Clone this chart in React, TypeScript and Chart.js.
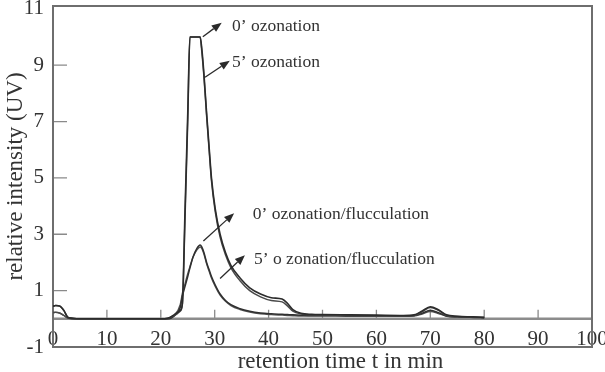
import React, { useEffect, useRef } from "react";
import { Chart, registerables } from "chart.js";

Chart.register(...registerables);

const FONT = "'Liberation Serif', 'Times New Roman', serif";
const TEXT = "#333333";

// retention time (min)
const timeMin = [
  0, 0.5, 1.3, 2, 2.8, 5, 10, 15, 20, 21.3, 22.5, 23.6, 24.0, 24.5, 25.0, 25.4,
  26, 26.7, 27.3, 27.6, 28.0, 28.5, 29.0, 29.4, 30.1, 31.0, 32.0, 33.0, 34.7,
  36.5, 38.5, 40.5, 42.5, 43.5, 44.5, 46, 48, 50, 55, 60, 65, 67, 68.5, 70,
  71.5, 73, 75, 78, 80,
];

const ozonation0 = [
  0.45, 0.47, 0.45, 0.3, 0.05, 0, 0, 0, 0, 0.02, 0.15, 0.3, 0.55, 3.9, 7.3, 10,
  10, 10, 10, 9.6, 8.7, 7.3, 6.0, 5.0, 3.9, 3.0, 2.35, 1.9, 1.45, 1.1, 0.88,
  0.75, 0.7, 0.55, 0.33, 0.2, 0.16, 0.15, 0.14, 0.13, 0.12, 0.14, 0.28, 0.43,
  0.32, 0.14, 0.09, 0.07, 0.05,
];

const ozonation5 = [
  0.22, 0.23, 0.2, 0.12, 0.03, 0, 0, 0, 0, 0.02, 0.12, 0.27, 0.5, 3.6, 7.0, 10,
  10, 10, 10, 9.5, 8.6, 7.2, 5.9, 4.9, 3.8, 2.9, 2.27, 1.82, 1.35, 1.0, 0.78,
  0.65, 0.6, 0.46, 0.27, 0.17, 0.14, 0.13, 0.12, 0.11, 0.1, 0.12, 0.25, 0.4,
  0.3, 0.12, 0.08, 0.06, 0.05,
];

const flocculation0 = [
  0.45, 0.47, 0.45, 0.3, 0.05, 0, 0, 0, 0, 0, 0.1, 0.4, 0.8, 1.15, 1.5, 1.8,
  2.2, 2.5, 2.62, 2.55, 2.35, 2.0, 1.72, 1.5, 1.2, 0.88, 0.65, 0.5, 0.36, 0.27,
  0.21, 0.18, 0.16, 0.15, 0.14, 0.13, 0.12, 0.12, 0.11, 0.11, 0.1, 0.12, 0.2,
  0.3, 0.22, 0.1, 0.07, 0.05, 0.04,
];

const flocculation5 = [
  0.22, 0.23, 0.2, 0.12, 0.03, 0, 0, 0, 0, 0, 0.12, 0.5, 0.9, 1.25, 1.6, 1.85,
  2.2, 2.45, 2.55, 2.5, 2.3, 1.95, 1.67, 1.45, 1.15, 0.84, 0.62, 0.47, 0.33,
  0.24, 0.18, 0.15, 0.13, 0.12, 0.11, 0.1, 0.1, 0.1, 0.09, 0.09, 0.09, 0.1,
  0.17, 0.26, 0.19, 0.09, 0.06, 0.05, 0.04,
];

const xTickValues = [0, 10, 20, 30, 40, 50, 60, 70, 80, 90, 100];
const yTickValues = [-1, 1, 3, 5, 7, 9, 11];

const seriesNames = [
  "0’ ozonation",
  "5’ ozonation",
  "0’ ozonation/flucculation",
  "5’ o zonation/flucculation",
];

// annotation anchors in data coordinates
const labelX = [33.2, 33.2, 37.05, 37.3];
const labelY = [10.23, 8.95, 3.54, 1.93];
const arrowFromX = [27.8, 28.2, 27.9, 31.0];
const arrowFromY = [10.01, 8.57, 2.76, 1.43];
const arrowToX = [31.3, 32.8, 33.6, 35.6];
const arrowToY = [10.51, 9.16, 3.75, 2.26];

const xTitle = "retention time t in min";
const yTitle = "relative intensity (UV)";

const decorPlugin = {
  id: "decor",
  beforeDatasetsDraw(chart: any) {
    const { ctx, chartArea: a, scales } = chart;
    const x = scales.x;
    const y = scales.y;
    ctx.save();
    const y0 = y.getPixelForValue(0);
    ctx.strokeStyle = "#8a8a8a";
    ctx.lineWidth = 1.3;
    ctx.beginPath();
    for (const v of xTickValues) {
      if (v <= 0 || v >= 100) continue;
      const px = x.getPixelForValue(v);
      ctx.moveTo(px, y0);
      ctx.lineTo(px, y0 - 9);
    }
    for (const v of yTickValues) {
      if (v <= -1 || v >= 11) continue;
      const py = y.getPixelForValue(v);
      ctx.moveTo(a.left, py);
      ctx.lineTo(a.left + 14, py);
    }
    ctx.stroke();
    ctx.strokeStyle = "#8c8c8c";
    ctx.lineWidth = 2.5;
    ctx.beginPath();
    ctx.moveTo(a.left, y0);
    ctx.lineTo(a.right, y0);
    ctx.stroke();
    ctx.strokeStyle = "#6e6e6e";
    ctx.lineWidth = 2;
    ctx.strokeRect(a.left, a.top, a.right - a.left, a.bottom - a.top);
    ctx.restore();
  },
  afterDatasetsDraw(chart: any) {
    const { ctx, chartArea: a, scales } = chart;
    const x = scales.x;
    const y = scales.y;
    ctx.save();
    ctx.strokeStyle = "#2a2a2a";
    ctx.fillStyle = "#2a2a2a";
    ctx.lineWidth = 1.3;
    for (let i = 0; i < seriesNames.length; i++) {
      const x1 = x.getPixelForValue(arrowFromX[i]);
      const y1 = y.getPixelForValue(arrowFromY[i]);
      const x2 = x.getPixelForValue(arrowToX[i]);
      const y2 = y.getPixelForValue(arrowToY[i]);
      const ang = Math.atan2(y2 - y1, x2 - x1);
      const len = 10;
      const hw = 4;
      const bx = x2 - len * Math.cos(ang);
      const by = y2 - len * Math.sin(ang);
      ctx.beginPath();
      ctx.moveTo(x1, y1);
      ctx.lineTo(bx, by);
      ctx.stroke();
      ctx.beginPath();
      ctx.moveTo(x2, y2);
      ctx.lineTo(bx + hw * Math.sin(ang), by - hw * Math.cos(ang));
      ctx.lineTo(bx - hw * Math.sin(ang), by + hw * Math.cos(ang));
      ctx.closePath();
      ctx.fill();
    }
    ctx.fillStyle = TEXT;
    ctx.font = `17.5px ${FONT}`;
    ctx.textAlign = "left";
    ctx.textBaseline = "alphabetic";
    for (let i = 0; i < seriesNames.length; i++) {
      ctx.fillText(
        seriesNames[i],
        x.getPixelForValue(labelX[i]),
        y.getPixelForValue(labelY[i])
      );
    }
    ctx.font = `23px ${FONT}`;
    ctx.textAlign = "center";
    ctx.fillText(xTitle, (a.left + a.right) / 2 + 18, 368);
    ctx.restore();
  },
};

export default function App() {
  const ref = useRef<HTMLCanvasElement | null>(null);

  useEffect(() => {
    if (!ref.current) return;
    const mk = (vals: number[]) => timeMin.map((t, i) => ({ x: t, y: vals[i] }));
    const styles = [
      { c: "#2c2c2c", w: 1.6 },
      { c: "#4a4a4a", w: 1.5 },
      { c: "#303030", w: 1.5 },
      { c: "#555555", w: 1.4 },
    ];
    const all = [ozonation0, ozonation5, flocculation0, flocculation5];
    const chart = new Chart(ref.current, {
      type: "line",
      data: {
        datasets: all.map((vals, i) => ({
          label: seriesNames[i],
          data: mk(vals),
          borderColor: styles[i].c,
          borderWidth: styles[i].w,
          pointRadius: 0,
          fill: false,
          cubicInterpolationMode: "monotone" as const,
        })),
      },
      options: {
        animation: false,
        responsive: false,
        devicePixelRatio: 1,
        layout: { padding: { top: 6, right: 13, left: 0, bottom: 0 } },
        plugins: { legend: { display: false }, tooltip: { enabled: false } },
        scales: {
          x: {
            type: "linear",
            min: 0,
            max: 100,
            position: "bottom",
            grid: { display: false, drawTicks: false },
            border: { display: false },
            ticks: {
              mirror: true,
              padding: -5,
              maxRotation: 0,
              autoSkip: false,
              color: TEXT,
              font: { family: FONT, size: 21 },
            },
            afterBuildTicks: (axis: any) => {
              axis.ticks = xTickValues.map((v) => ({ value: v }));
            },
            afterFit: (s: any) => {
              s.height = 25;
              s.paddingLeft = 0;
              s.paddingRight = 0;
              s.paddingTop = 0;
              s.paddingBottom = 0;
            },
          },
          y: {
            type: "linear",
            min: -1,
            max: 11.1,
            grid: { display: false, drawTicks: false },
            border: { display: false },
            ticks: {
              padding: 9,
              color: TEXT,
              font: { family: FONT, size: 21 },
            },
            title: {
              display: true,
              text: yTitle,
              color: TEXT,
              font: { family: FONT, size: 23 },
              padding: { top: 2, bottom: 0 },
            },
            afterBuildTicks: (axis: any) => {
              axis.ticks = yTickValues.map((v) => ({ value: v }));
            },
            afterFit: (s: any) => {
              s.width = 53;
              s.paddingLeft = 0;
              s.paddingRight = 0;
              s.paddingTop = 0;
              s.paddingBottom = 0;
            },
          },
        },
      },
      plugins: [decorPlugin],
    });
    return () => chart.destroy();
  }, []);

  return (
    <div
      style={{
        position: "absolute",
        left: 0,
        top: 0,
        width: 605,
        height: 372,
        background: "#fff",
      }}
    >
      <canvas ref={ref} width={605} height={372} style={{ display: "block" }} />
    </div>
  );
}
